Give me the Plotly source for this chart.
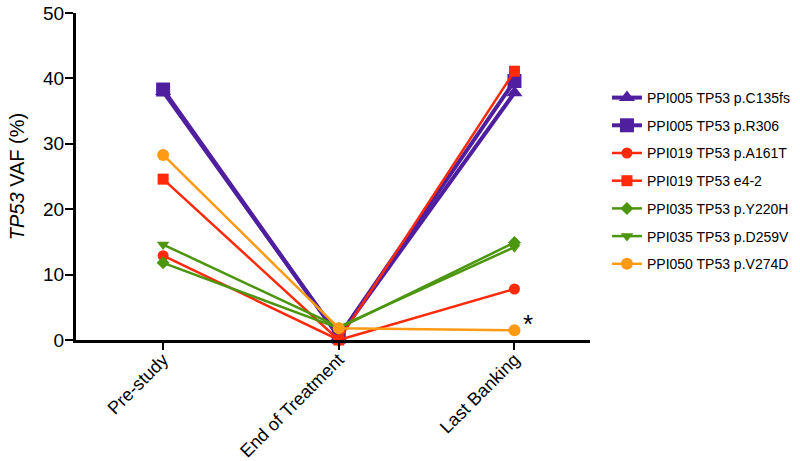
import plotly.graph_objects as go

categories = ["Pre-study", "End of Treatment", "Last Banking"]
series_names = [
    "PPI005 TP53 p.C135fs",
    "PPI005 TP53 p.R306",
    "PPI019 TP53 p.A161T",
    "PPI019 TP53 e4-2",
    "PPI035 TP53 p.Y220H",
    "PPI035 TP53 p.D259V",
    "PPI050 TP53 p.V274D",
]
vaf_c135fs = [38.0, 0.5, 37.8]
vaf_r306 = [38.3, 0.5, 39.6]
vaf_a161t = [12.9, 0.0, 7.8]
vaf_e42 = [24.6, 0.0, 41.1]
vaf_y220h = [11.8, 1.8, 14.9]
vaf_d259v = [14.6, 2.0, 14.2]
vaf_v274d = [28.3, 1.8, 1.5]
y_ticks = [0, 10, 20, 30, 40, 50]

series_values = [vaf_c135fs, vaf_r306, vaf_a161t, vaf_e42, vaf_y220h, vaf_d259v, vaf_v274d]
purple = "#4F1FA0"
red = "#FF2A0A"
green = "#4C960F"
orange = "#FF9A14"
styles = [
    (purple, "triangle-up", 14, 4),
    (purple, "square", 14, 4),
    (red, "circle", 11, 2.5),
    (red, "square", 11, 2.5),
    (green, "diamond", 10, 2.5),
    (green, "triangle-down", 11, 2.5),
    (orange, "circle", 12, 2.5),
]

fig = go.Figure()
for i, (name, vals, (col, sym, sz, lw)) in enumerate(zip(series_names, series_values, styles)):
    fig.add_trace(go.Scatter(
        x=categories, y=vals, name=name, mode="lines+markers",
        legendgroup=f"g{i}",
        line=dict(color=col, width=lw),
        marker=dict(color=col, symbol=sym, size=sz, line=dict(width=0)),
        cliponaxis=False,
    ))

font_family = "Liberation Sans, Arial, Helvetica, sans-serif"
fig.update_layout(
    width=800, height=461,
    margin=dict(l=76, r=210, t=13, b=121, autoexpand=False),
    plot_bgcolor="white", paper_bgcolor="white",
    font=dict(family=font_family, color="black", size=18),
    showlegend=True,
    legend=dict(x=1.033, y=0.789, xanchor="left", yanchor="top",
                font=dict(size=14, color="black"), tracegroupgap=6.5,
                itemwidth=30, bgcolor="rgba(0,0,0,0)"),
    xaxis=dict(
        type="category", range=[-0.496, 2.43], automargin=False,
        showline=True, linecolor="black", linewidth=3,
        ticks="outside", ticklen=7, tickwidth=2, tickcolor="black",
        tickangle=-45, tickfont=dict(size=18), ticklabelstandoff=-8,
        showgrid=False, zeroline=False,
    ),
    yaxis=dict(
        range=[0, 50], tickvals=y_ticks, automargin=False,
        showline=True, linecolor="black", linewidth=3,
        ticks="outside", ticklen=8, tickwidth=2, tickcolor="black",
        tickfont=dict(size=19), ticklabelstandoff=-3,
        showgrid=False, zeroline=False,
        title=dict(text="<i>TP53</i> VAF (%)", font=dict(size=20), standoff=14),
    ),
)
fig.add_annotation(x="Last Banking", y=1.5, text="*", showarrow=False,
                   xshift=14, yshift=6, font=dict(size=26, color="black"))

fig.write_html("out.html", config={"displayModeBar": False},
               post_script="document.body.style.margin='0';document.body.style.overflow='hidden';")
